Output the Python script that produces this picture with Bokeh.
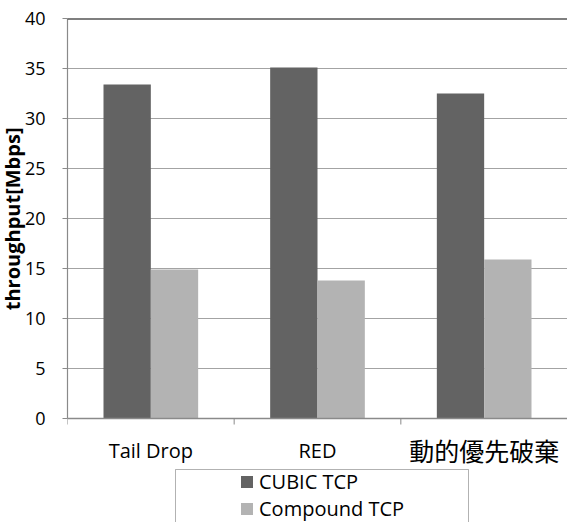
from bokeh.plotting import figure
from bokeh.models import (FixedTicker, Span, BoxAnnotation, Legend,
                          LegendItem, Range1d, ColumnDataSource, Title)
from bokeh.core.properties import value
from bokeh.embed import file_html
from bokeh.resources import INLINE

categories = ["Tail Drop", "RED", "動的優先破棄"]
cubic = [33.4, 35.1, 32.5]
compound = [14.9, 13.8, 15.9]
series_names = ["CUBIC TCP", "Compound TCP"]
y_ticks = [0, 5, 10, 15, 20, 25, 30, 35, 40]
y_label = "throughput[Mbps]"

DARK = "#636363"
LIGHT = "#b3b3b3"
AXIS_GRAY = "#8a8a8a"
GRID_GRAY = "#a3a3a3"
FONT = "Open Sans, Noto Sans CJK JP"

n = len(categories)
bar_w = 0.284
centers = [i + 0.5 for i in range(n)]
bounds = list(range(n + 1))

p = figure(width=567, height=522, x_range=Range1d(0, n), y_range=Range1d(-10.4, 40),
           output_backend="svg", toolbar_location=None, x_axis_location=None,
           min_border_left=67, min_border_right=0, min_border_top=18,
           min_border_bottom=0)
p.outline_line_color = None
p.background_fill_color = "white"
p.border_fill_color = "white"

src = ColumnDataSource(dict(
    x1=[c - bar_w / 2 for c in centers], cubic=cubic,
    x2=[c + bar_w / 2 for c in centers], compound=compound))
r1 = p.vbar(x="x1", top="cubic", bottom=0, width=bar_w, source=src,
            fill_color=DARK, line_color=None)
r2 = p.vbar(x="x2", top="compound", bottom=0, width=bar_w, source=src,
            fill_color=LIGHT, line_color=None)

# grid
p.xgrid.visible = False
p.ygrid.ticker = FixedTicker(ticks=y_ticks)
p.ygrid.grid_line_color = GRID_GRAY
p.ygrid.grid_line_width = 1.2

# top border line
p.add_layout(Span(location=40, dimension="width", line_color="black", line_width=2))

# y axis
ya = p.yaxis[0]
ya.ticker = FixedTicker(ticks=y_ticks)
ya.bounds = (0, 40)
ya.axis_line_color = AXIS_GRAY
ya.axis_line_width = 1.2
ya.major_tick_line_color = AXIS_GRAY
ya.major_tick_out = 5
ya.major_tick_in = 0
ya.minor_tick_line_color = None
ya.major_label_text_font = FONT
ya.major_label_text_font_size = "18px"
ya.major_label_text_color = "black"
ya.major_label_standoff = 17

# y axis title, placed against the plotted 0-40 span
p.add_layout(Title(text=y_label, align="right", offset=109, standoff=-8,
                   text_font=FONT, text_font_size="20px",
                   text_font_style="bold", text_color="black"), "left")

# x axis (category axis drawn at y = 0)
p.add_layout(Span(location=0, dimension="width", line_color=AXIS_GRAY, line_width=1.5))
p.segment(x0=bounds, y0=[0] * len(bounds), x1=bounds, y1=[-0.6] * len(bounds),
          line_color=AXIS_GRAY, line_width=1)
sizes = ["25px" if any(ord(ch) > 0x3000 for ch in c) else "20px" for c in categories]
p.text(x=centers, y=[-3.2] * n, text=categories, text_align="center",
       text_baseline="middle", text_font=value(FONT), text_font_size=sizes,
       text_color="black")

# legend box
p.add_layout(BoxAnnotation(left=0.648, right=2.406, top=-5.1, bottom=-12,
                           fill_color=None, line_color="black", line_width=1))

legend = Legend(items=[LegendItem(label=series_names[0], renderers=[r1]),
                       LegendItem(label=series_names[1], renderers=[r2])],
                location=(172, 0), border_line_color=None,
                background_fill_alpha=0, padding=6, spacing=0, margin=0,
                glyph_width=15, glyph_height=15, label_height=15,
                label_standoff=5, label_text_font=FONT,
                label_text_font_size="20px", label_text_color="black")
p.add_layout(legend, "center")

open("out.html", "w").write(file_html(p, INLINE))
